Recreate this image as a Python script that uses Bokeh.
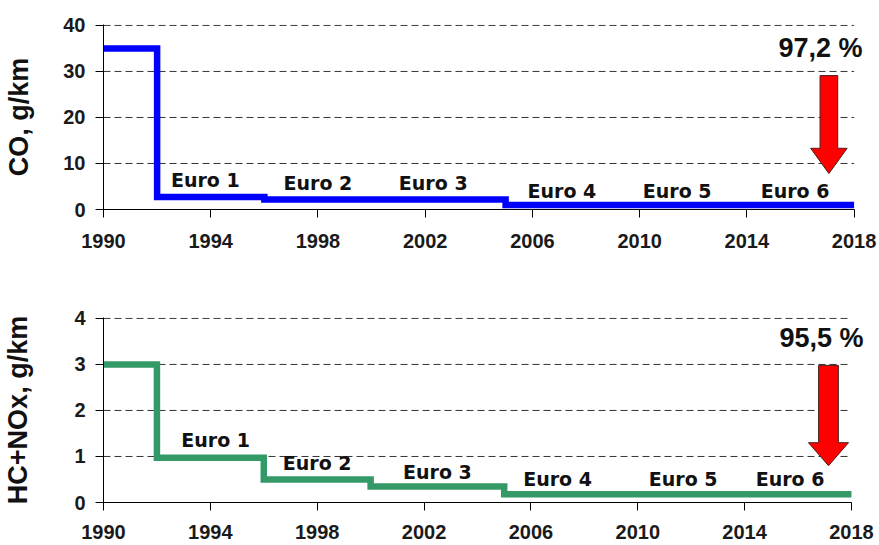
from bokeh.plotting import figure
from bokeh.layouts import column
from bokeh.models import FixedTicker, Range1d
from bokeh.core.properties import value
from bokeh.embed import file_html
from bokeh.resources import INLINE

# ---- data ----
years = [1990, 1992, 1996, 2000, 2005, 2009, 2014, 2018]
co_values = [35.0, 2.72, 2.2, 2.2, 1.0, 1.0, 1.0, 1.0]
hcnox_values = [3.0, 0.97, 0.5, 0.35, 0.18, 0.18, 0.18, 0.18]

x_ticks = [1990, 1994, 1998, 2002, 2006, 2010, 2014, 2018]
co_ticks = [0, 10, 20, 30, 40]
hcnox_ticks = [0, 1, 2, 3, 4]

euro_labels = ["Euro 1", "Euro 2", "Euro 3", "Euro 4", "Euro 5", "Euro 6"]
co_label_x = [1993.8, 1998.0, 2002.3, 2007.1, 2011.4, 2015.8]
co_label_y = [6.4, 5.8, 5.8, 4.1, 4.1, 4.1]
hc_label_x = [1994.2, 1998.0, 2002.5, 2007.0, 2011.7, 2015.7]
hc_label_y = [1.35, 0.85, 0.67, 0.5, 0.5, 0.5]

co_reduction = "97,2 %"
hcnox_reduction = "95,5 %"

TICK_FONT = "Liberation Sans"
LABEL_FONT = "Liberation Sans"
EURO_FONT = "DejaVu Sans"

X_START, X_END = x_ticks[0], x_ticks[-1]


def style(p, yticks, ylabel, label_standoff, x_standoff):
    p.outline_line_color = None
    p.xgrid.visible = False
    p.ygrid.visible = False
    p.xaxis.ticker = FixedTicker(ticks=x_ticks)
    p.xaxis.bounds = (X_START, X_END)
    p.yaxis.ticker = FixedTicker(ticks=yticks)
    for ax in (p.xaxis[0], p.yaxis[0]):
        ax.axis_line_color = "black"
        ax.axis_line_width = 1
        ax.major_tick_line_color = "black"
        ax.major_tick_in = 0
        ax.major_tick_out = 8
        ax.minor_tick_line_color = None
        ax.major_label_text_font = TICK_FONT
        ax.major_label_text_font_style = "bold"
        ax.major_label_text_font_size = "20px"
        ax.major_label_text_color = "#1a1a1a"
    p.xaxis.major_label_standoff = x_standoff
    p.yaxis.major_label_standoff = 10
    p.yaxis.axis_label = ylabel
    p.yaxis.axis_label_text_font = LABEL_FONT
    p.yaxis.axis_label_text_font_style = "bold"
    p.yaxis.axis_label_text_font_size = "27px"
    p.yaxis.axis_label_text_color = "#111111"
    p.yaxis.axis_label_standoff = label_standoff
    # dashed horizontal grid lines spanning the axis range only
    gy = [t for t in yticks if t > 0]
    p.segment(x0=[X_START] * len(gy), y0=gy, x1=[X_END] * len(gy), y1=gy,
              line_color="#333333", line_width=1, line_dash="7 4")


def add_arrow(p, xc, y_top, y_neck, y_tip, shaft_half, head_half):
    xs = [xc - shaft_half, xc + shaft_half, xc + shaft_half, xc + head_half,
          xc, xc - head_half, xc - shaft_half]
    ys = [y_top, y_top, y_neck, y_neck, y_tip, y_neck, y_neck]
    p.patch(xs, ys, fill_color="#FF0000", line_color="#4a2020", line_width=1)


def add_percent(p, x, y, txt):
    p.text([x], [y], text=[txt], text_font=value(LABEL_FONT),
           text_font_style="bold", text_font_size="27px", text_align="center",
           text_baseline="middle", text_color="#111111")


# ---- top chart: CO ----
p1 = figure(width=879, height=256, output_backend="svg", toolbar_location=None,
            x_range=Range1d(X_START, X_END + 0.5), y_range=Range1d(0, 40.2),
            min_border_left=97, min_border_right=9, min_border_top=24,
            min_border_bottom=47)
style(p1, co_ticks, "CO, g/km", 26, 16)
p1.step(years, co_values, mode="after", line_color="#0000FF", line_width=6.5,
        line_join="miter")
p1.text(co_label_x, co_label_y, text=euro_labels, text_font=value(EURO_FONT),
        text_font_style="bold", text_font_size="19px", text_align="center",
        text_baseline="middle", text_color="#111111")
add_percent(p1, 2016.75, 35.0, co_reduction)
add_arrow(p1, 2017.06, 29.1, 13.3, 7.8, 0.33, 0.68)

# ---- bottom chart: HC+NOx ----
p2 = figure(width=879, height=289, output_backend="svg", toolbar_location=None,
            x_range=Range1d(X_START, X_END + 0.6), y_range=Range1d(0, 4.02),
            min_border_left=101, min_border_right=12, min_border_top=61,
            min_border_bottom=43)
style(p2, hcnox_ticks, "HC+NOx, g/km", 38, 14)
p2.step(years, hcnox_values, mode="after", line_color="#339966", line_width=6.5,
        line_join="miter")
p2.text(hc_label_x, hc_label_y, text=euro_labels, text_font=value(EURO_FONT),
        text_font_style="bold", text_font_size="19px", text_align="center",
        text_baseline="middle", text_color="#111111")
add_percent(p2, 2016.88, 3.57, hcnox_reduction)
add_arrow(p2, 2017.14, 2.98, 1.30, 0.80, 0.37, 0.75)

layout = column(p1, p2, spacing=0)
open("out.html", "w").write(file_html(layout, INLINE))
